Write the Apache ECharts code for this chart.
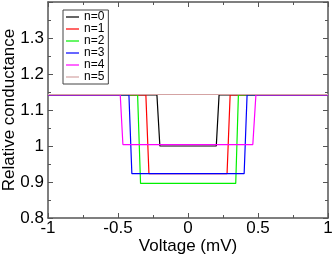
<!DOCTYPE html>
<html>
<head>
<meta charset="utf-8">
<script src="https://cdn.jsdelivr.net/npm/echarts@6/dist/echarts.min.js"></script>
<style>
html,body{margin:0;padding:0;background:#fff;}
#chart{width:332px;height:256px;}
</style>
</head>
<body>
<div id="chart"></div>
<script>
// Data
const seriesNames = ['n=0', 'n=1', 'n=2', 'n=3', 'n=4', 'n=5'];
const x_n0 = [-1, -0.222, -0.201, 0.202, 0.222, 1];
const y_n0 = [1.142, 1.142, 1.0, 1.0, 1.142, 1.142];
const x_n1 = [-1, -0.301, -0.279, 0.279, 0.301, 1];
const y_n1 = [1.142, 1.142, 0.923, 0.923, 1.142, 1.142];
const x_n2 = [-1, -0.36, -0.339, 0.341, 0.36, 1];
const y_n2 = [1.142, 1.142, 0.896, 0.896, 1.142, 1.142];
const x_n3 = [-1, -0.422, -0.401, 0.401, 0.422, 1];
const y_n3 = [1.142, 1.142, 0.923, 0.923, 1.142, 1.142];
const x_n4 = [-1, -0.484, -0.465, 0.463, 0.485, 1];
const y_n4 = [1.142, 1.142, 1.004, 1.004, 1.142, 1.142];
const x_n5 = [-1, 1];
const y_n5 = [1.143, 1.143];
const xTicks = [-1, -0.5, 0, 0.5, 1];
const yTicks = [0.8, 0.9, 1, 1.1, 1.2, 1.3, 1.4];

const xs = [x_n0, x_n1, x_n2, x_n3, x_n4, x_n5];
const ys = [y_n0, y_n1, y_n2, y_n3, y_n4, y_n5];
const colors = ['#000000', '#ff0000', '#00f000', '#0000ff', '#ff00ff', '#d4a3a3'];

const FONT = 'Liberation Sans, Arial, sans-serif';
const axisColor = '#555';

function pairs(xa, ya) { return xa.map((v, i) => [v, ya[i]]); }

const chart = echarts.init(document.getElementById('chart'), null, {renderer: 'canvas'});
const baseX = {
  type: 'value', min: xTicks[0], max: xTicks[xTicks.length - 1], interval: 0.5,
  axisLine: {show: true, onZero: false, lineStyle: {color: axisColor, width: 1.5}},
  axisTick: {show: true, inside: true, length: 5, lineStyle: {color: axisColor, width: 1}},
  minorTick: {show: true, splitNumber: 2, length: 3, lineStyle: {color: axisColor, width: 1}},
  splitLine: {show: false}
};
const baseY = {
  type: 'value', min: yTicks[0], max: yTicks[yTicks.length - 1], interval: 0.1,
  axisLine: {show: true, onZero: false, lineStyle: {color: axisColor, width: 1.5}},
  axisTick: {show: true, inside: true, length: 5, lineStyle: {color: axisColor, width: 1}},
  minorTick: {show: true, splitNumber: 2, length: 3, lineStyle: {color: axisColor, width: 1}},
  splitLine: {show: false}
};
chart.setOption({
  animation: false,
  backgroundColor: '#fff',
  grid: {left: 48, right: 4, top: 2, bottom: 38, containLabel: false, outerBoundsMode: 'none'},
  legend: {
    orient: 'vertical', left: 63, top: 10,
    data: seriesNames.map(n => ({name: n, icon: 'rect'})),
    itemWidth: 13, itemHeight: 1.2, itemGap: 0,
    padding: [1, 4, 1, 3],
    borderColor: '#444', borderWidth: 1, backgroundColor: '#fff',
    textStyle: {fontFamily: FONT, fontSize: 12, lineHeight: 11, color: '#000', padding: [0, 0, 0, 0]}
  },
  xAxis: [
    Object.assign({}, baseX, {
      position: 'bottom',
      name: 'Voltage (mV)', nameLocation: 'middle', nameGap: 20, nameMoveOverlap: false,
      nameTextStyle: {fontFamily: FONT, fontSize: 17, color: '#000', lineHeight: 17},
      axisLabel: {fontFamily: FONT, fontSize: 17, color: '#000', margin: 2}
    }),
    Object.assign({}, baseX, {position: 'top', axisLabel: {show: false}})
  ],
  yAxis: [
    Object.assign({}, baseY, {
      position: 'left',
      name: 'Relative conductance', nameLocation: 'middle', nameGap: 30.5, nameMoveOverlap: false,
      nameTextStyle: {fontFamily: FONT, fontSize: 17, color: '#000', lineHeight: 17},
      axisLabel: {fontFamily: FONT, fontSize: 17, color: '#000', margin: 4, showMaxLabel: false}
    }),
    Object.assign({}, baseY, {position: 'right', axisLabel: {show: false}})
  ],
  series: seriesNames.map((name, i) => ({
    name: name, type: 'line', xAxisIndex: 0, yAxisIndex: 0,
    data: pairs(xs[i], ys[i]),
    symbol: 'none', color: colors[i],
    lineStyle: {color: colors[i], width: 1.2},
    z: 2 + i
  }))
});
</script>
</body>
</html>
